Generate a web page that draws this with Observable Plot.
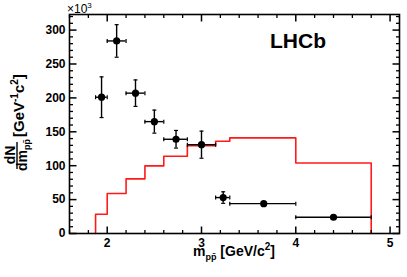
<!DOCTYPE html>
<html>
<head>
<meta charset="utf-8">
<script src="https://cdn.jsdelivr.net/npm/d3@7"></script>
<script src="https://cdn.jsdelivr.net/npm/@observablehq/plot@0.6"></script>
<style>
  html, body { margin: 0; padding: 0; background: #fff; }
  #chart { width: 407px; height: 277px; }
</style>
</head>
<body>
<div id="chart"></div>
<script>
// ---- data (values in units of 10^3 per GeV/c^2) ----
const massCenters = [1.94, 2.10, 2.30, 2.50, 2.73, 3.00, 3.23, 3.66, 4.40];
const binLow      = [1.8765, 2.0, 2.2, 2.4, 2.6, 2.85, 3.15, 3.3, 4.0];
const binHigh     = [2.0, 2.2, 2.4, 2.6, 2.85, 3.15, 3.3, 4.0, 4.8];
const yields      = [201, 284, 207, 165, 139, 131, 53, 44, 24];
const yieldErr    = [30, 24, 19.5, 17, 13, 20, 8.5, 3, 3];

const histEdges  = [1.8765, 2.0, 2.2, 2.4, 2.6, 2.85, 3.15, 3.3, 4.0, 4.8];
const histValues = [28.5, 59, 80.5, 99.7, 114, 129.5, 136, 141, 104];

const xTickLabels = [2, 3, 4, 5];
const yTickLabels = [0, 50, 100, 150, 200, 250, 300];

// ---- derived tables ----
const points = massCenters.map((x, i) => ({
  x, y: yields[i], xlo: binLow[i], xhi: binHigh[i],
  ylo: yields[i] - yieldErr[i], yhi: yields[i] + yieldErr[i]
}));
const histPts = [{x: histEdges[0], y: 0}];
histValues.forEach((v, i) => histPts.push({x: histEdges[i], y: v}));
histPts.push({x: histEdges[histEdges.length - 1], y: histValues[histValues.length - 1]});
histPts.push({x: histEdges[histEdges.length - 1], y: 0});

const xMinor = d3.range(1.6, 5.05, 0.2).filter(d => Math.abs(d - Math.round(d)) > 0.01);
const yMinor = d3.range(0, 321, 10).filter(d => d % 50 !== 0);

const seg = (x1, y1, x2, y2) => ({draw(ctx) { ctx.moveTo(x1, y1); ctx.lineTo(x2, y2); }});
const tk = (data, anchor, sym, w) => Plot.dot(data, {
  [anchor === "bottom" || anchor === "top" ? "x" : "y"]: d => d,
  frameAnchor: anchor, symbol: sym, fill: "none", stroke: "black", strokeWidth: w, r: 3
});

const font = "'Liberation Sans', Arial, Helvetica, sans-serif";

const chart = Plot.plot({
  width: 407, height: 277,
  marginLeft: 69, marginRight: 8, marginTop: 14, marginBottom: 44,
  x: {domain: [1.6, 5.1], axis: null},
  y: {domain: [0, 323], axis: null},
  style: {background: "white", fontFamily: font, color: "black"},
  marks: [
    Plot.line(histPts, {x: "x", y: "y", curve: "step-after", stroke: "#ff1a1a", strokeWidth: 1.6}),
    // error bars
    Plot.ruleX(points, {x: "x", y1: "ylo", y2: "yhi", stroke: "black", strokeWidth: 1.4}),
    Plot.ruleY(points, {y: "y", x1: "xlo", x2: "xhi", stroke: "black", strokeWidth: 1.4}),
    Plot.dot(points, {x: "x", y: "yhi", symbol: seg(-2, 0, 2, 0), fill: "none", stroke: "black", strokeWidth: 1.2, r: 3}),
    Plot.dot(points, {x: "x", y: "ylo", symbol: seg(-2, 0, 2, 0), fill: "none", stroke: "black", strokeWidth: 1.2, r: 3}),
    Plot.dot(points, {x: "xlo", y: "y", symbol: seg(0, -2, 0, 2), fill: "none", stroke: "black", strokeWidth: 1.2, r: 3}),
    Plot.dot(points, {x: "xhi", y: "y", symbol: seg(0, -2, 0, 2), fill: "none", stroke: "black", strokeWidth: 1.2, r: 3}),
    Plot.dot(points, {x: "x", y: "y", r: 3.6, fill: "black", stroke: "none"}),
    // frame and inward ticks
    Plot.frame({stroke: "black", strokeWidth: 1.6}),
    tk(xTickLabels, "bottom", seg(0, 0, 0, -7), 1.5),
    tk(xTickLabels, "top", seg(0, 0, 0, 7), 1.5),
    tk(xMinor, "bottom", seg(0, 0, 0, -3.5), 1.3),
    tk(xMinor, "top", seg(0, 0, 0, 3.5), 1.3),
    tk(yTickLabels, "left", seg(0, 0, 7, 0), 1.5),
    tk(yTickLabels, "right", seg(0, 0, -7, 0), 1.5),
    tk(yMinor, "left", seg(0, 0, 3.5, 0), 1.3),
    tk(yMinor, "right", seg(0, 0, -3.5, 0), 1.3),
    // tick labels
    Plot.text(xTickLabels, {x: d => d, frameAnchor: "bottom", dy: 9.5, lineAnchor: "middle",
      text: d => String(d), fontSize: 12, fontWeight: "bold", fill: "black"}),
    Plot.text(yTickLabels, {y: d => d, frameAnchor: "left", dx: -4, textAnchor: "end", lineAnchor: "middle",
      text: d => String(d), fontSize: 12, fontWeight: "bold", fill: "black"})
  ]
});
document.getElementById("chart").appendChild(chart);

// ---- titles ----
const svg = d3.select(chart);

// multiplier
const mult = svg.append("text").attr("x", 67).attr("y", 13).attr("text-anchor", "start")
  .attr("font-family", font).attr("font-size", 12).attr("fill", "black");
mult.append("tspan").text("\u00d710");
mult.append("tspan").attr("font-size", 8).attr("dy", -5).text("3");

// LHCb
svg.append("text").attr("x", 270).attr("y", 48).attr("text-anchor", "start")
  .attr("font-family", font).attr("font-size", 21).attr("font-weight", "bold")
  .attr("fill", "black").text("LHCb");

// x title
const xt = svg.append("text").attr("x", 234).attr("y", 256).attr("text-anchor", "middle")
  .attr("font-family", font).attr("font-size", 14).attr("font-weight", "bold").attr("fill", "black");
xt.append("tspan").text("m");
xt.append("tspan").attr("font-size", 9).attr("dy", 4).text("pp\u0304");
xt.append("tspan").attr("dy", -4).text(" [GeV/c");
xt.append("tspan").attr("font-size", 10).attr("dy", -6).text("2");
xt.append("tspan").attr("dy", 6).text("]");

// y title
const yg = svg.append("g").attr("transform", "translate(0,155) rotate(-90)")
  .attr("font-family", font).attr("font-weight", "bold").attr("fill", "black");
yg.append("text").attr("x", 0).attr("y", 15).attr("text-anchor", "middle").attr("font-size", 14).text("dN");
yg.append("line").attr("x1", -14).attr("x2", 13).attr("y1", 17).attr("y2", 17)
  .attr("stroke", "black").attr("stroke-width", 1.4);
const dm = yg.append("text").attr("x", 0).attr("y", 27).attr("text-anchor", "middle").attr("font-size", 14);
dm.append("tspan").text("dm");
dm.append("tspan").attr("font-size", 9).attr("dy", 3).text("pp\u0304");
const gev = yg.append("text").attr("x", 18).attr("y", 24).attr("text-anchor", "start").attr("font-size", 15);
gev.append("tspan").text("[GeV");
gev.append("tspan").attr("font-size", 10).attr("dy", -6).text("-1");
gev.append("tspan").attr("dy", 6).text("c");
gev.append("tspan").attr("font-size", 10).attr("dy", -6).text("2");
gev.append("tspan").attr("dy", 6).text("]");
</script>
</body>
</html>
